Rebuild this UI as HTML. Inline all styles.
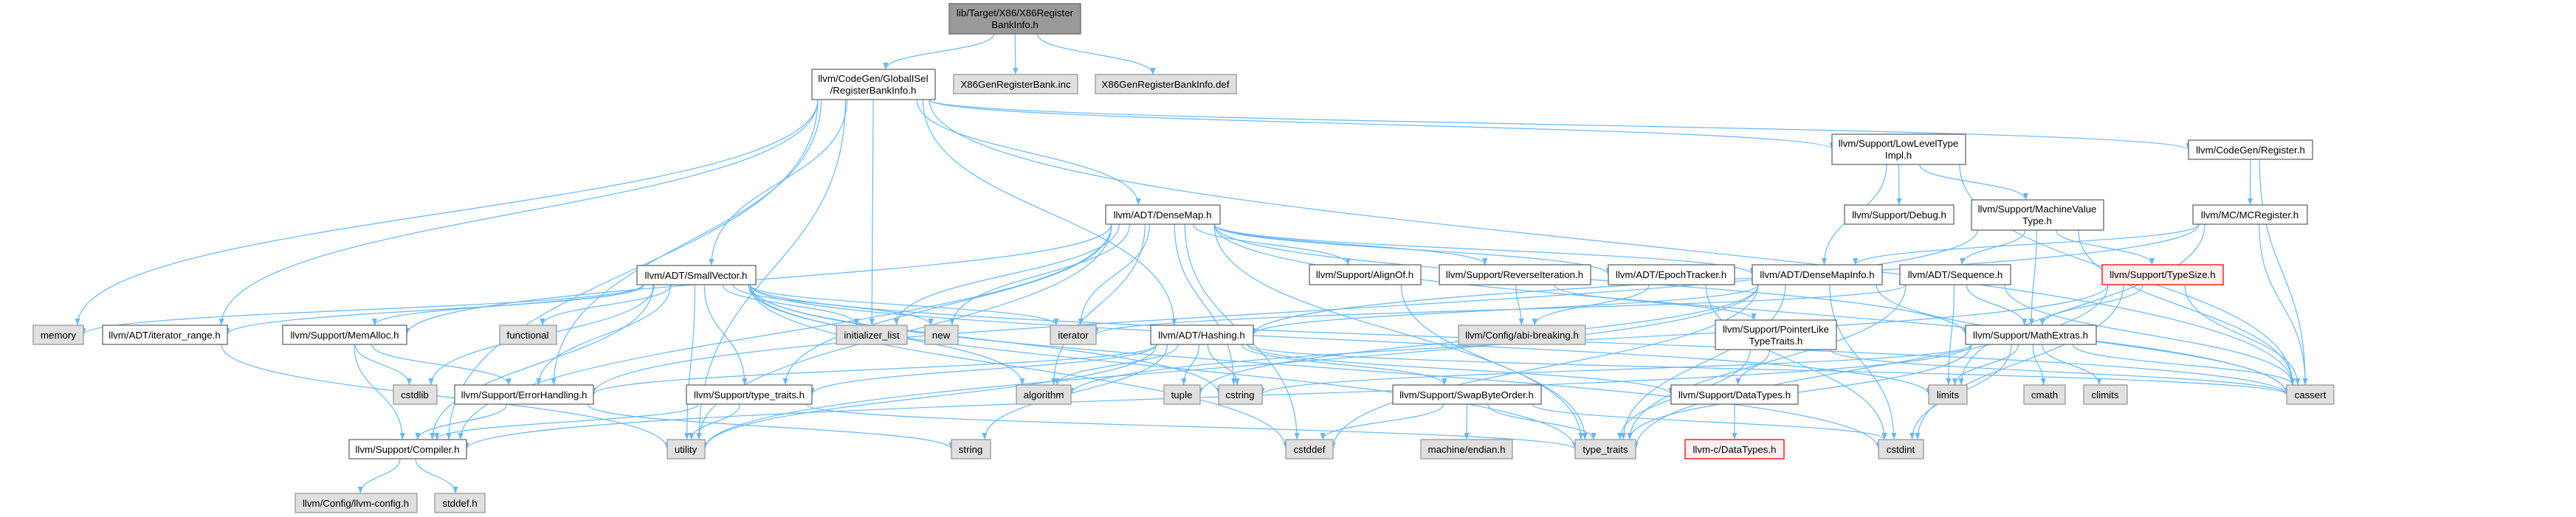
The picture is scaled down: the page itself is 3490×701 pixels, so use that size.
<!DOCTYPE html>
<html><head><meta charset="utf-8"><style>
html,body{margin:0;padding:0;background:#fff;}
svg{display:block;}
text{font-family:"Liberation Sans",Helvetica,sans-serif;font-size:13.3px;fill:#000;text-anchor:middle;}
.n rect{fill:#fff;stroke:#666;stroke-width:1.3;}
.g rect{fill:#e0e0e0;stroke:#999;stroke-width:1.3;}
.r rect{fill:#fff0f0;stroke:#ff0000;stroke-width:1.3;}
.root rect{fill:#999;stroke:#666;stroke-width:1.3;}
path.e{fill:none;stroke:#63b8ff;stroke-width:1.2;}
</style></head><body>
<svg id="s" width="3490" height="701" viewBox="0 0 3490 701" xmlns="http://www.w3.org/2000/svg">
<defs><marker id="a" viewBox="0 0 10 10" refX="10" refY="5" markerWidth="9" markerHeight="9" markerUnits="userSpaceOnUse" orient="auto"><path d="M0,1 L10,5 L0,9 z" fill="#63b8ff"/></marker></defs>
<g id="edges"></g>
<g class="root"><rect x="1286" y="5" width="178" height="41"/><text x="1375" y="22">lib/Target/X86/X86Register</text><text x="1375" y="38">BankInfo.h</text></g>
<g class="n"><rect x="1100" y="94" width="167" height="41"/><text x="1183" y="111">llvm/CodeGen/GlobalISel</text><text x="1183" y="127">/RegisterBankInfo.h</text></g>
<g class="g"><rect x="1292" y="101" width="168" height="26"/><text x="1376" y="119">X86GenRegisterBank.inc</text></g>
<g class="g"><rect x="1484" y="101" width="191" height="26"/><text x="1579" y="119">X86GenRegisterBankInfo.def</text></g>
<g class="n"><rect x="1498" y="278" width="155" height="26"/><text x="1575" y="296">llvm/ADT/DenseMap.h</text></g>
<g class="n"><rect x="2482" y="182" width="181" height="41"/><text x="2572" y="199">llvm/Support/LowLevelType</text><text x="2572" y="215">Impl.h</text></g>
<g class="n"><rect x="2965" y="190" width="168" height="26"/><text x="3049" y="208">llvm/CodeGen/Register.h</text></g>
<g class="n"><rect x="2499" y="278" width="148" height="26"/><text x="2573" y="296">llvm/Support/Debug.h</text></g>
<g class="n"><rect x="2671" y="271" width="179" height="41"/><text x="2760" y="288">llvm/Support/MachineValue</text><text x="2760" y="304">Type.h</text></g>
<g class="n"><rect x="2971" y="278" width="155" height="26"/><text x="3048" y="296">llvm/MC/MCRegister.h</text></g>
<g class="n"><rect x="863" y="360" width="161" height="26"/><text x="943" y="378">llvm/ADT/SmallVector.h</text></g>
<g class="n"><rect x="1774" y="359" width="151" height="27"/><text x="1849" y="377">llvm/Support/AlignOf.h</text></g>
<g class="n"><rect x="1950" y="359" width="205" height="27"/><text x="2052" y="377">llvm/Support/ReverseIteration.h</text></g>
<g class="n"><rect x="2179" y="359" width="171" height="27"/><text x="2264" y="377">llvm/ADT/EpochTracker.h</text></g>
<g class="n"><rect x="2374" y="359" width="176" height="27"/><text x="2462" y="377">llvm/ADT/DenseMapInfo.h</text></g>
<g class="n"><rect x="2574" y="359" width="150" height="27"/><text x="2649" y="377">llvm/ADT/Sequence.h</text></g>
<g class="r"><rect x="2848" y="359" width="164" height="27"/><text x="2930" y="377">llvm/Support/TypeSize.h</text></g>
<g class="g"><rect x="45" y="441" width="68" height="26"/><text x="79" y="459">memory</text></g>
<g class="n"><rect x="139" y="441" width="169" height="26"/><text x="223" y="459">llvm/ADT/iterator_range.h</text></g>
<g class="n"><rect x="383" y="441" width="168" height="26"/><text x="467" y="459">llvm/Support/MemAlloc.h</text></g>
<g class="g"><rect x="677" y="441" width="77" height="26"/><text x="715" y="459">functional</text></g>
<g class="g"><rect x="1133" y="441" width="96" height="26"/><text x="1181" y="459">initializer_list</text></g>
<g class="g"><rect x="1253" y="441" width="45" height="26"/><text x="1275" y="459">new</text></g>
<g class="g"><rect x="1423" y="441" width="62" height="26"/><text x="1454" y="459">iterator</text></g>
<g class="n"><rect x="1559" y="441" width="139" height="26"/><text x="1628" y="459">llvm/ADT/Hashing.h</text></g>
<g class="g"><rect x="1976" y="441" width="172" height="26"/><text x="2062" y="459">llvm/Config/abi-breaking.h</text></g>
<g class="n"><rect x="2324" y="434" width="164" height="40"/><text x="2406" y="451">llvm/Support/PointerLike</text><text x="2406" y="467">TypeTraits.h</text></g>
<g class="n"><rect x="2663" y="441" width="177" height="26"/><text x="2751" y="459">llvm/Support/MathExtras.h</text></g>
<g class="g"><rect x="533" y="522" width="59" height="26"/><text x="562" y="540">cstdlib</text></g>
<g class="n"><rect x="616" y="522" width="188" height="26"/><text x="710" y="540">llvm/Support/ErrorHandling.h</text></g>
<g class="n"><rect x="930" y="522" width="170" height="26"/><text x="1015" y="540">llvm/Support/type_traits.h</text></g>
<g class="g"><rect x="1377" y="522" width="74" height="26"/><text x="1414" y="540">algorithm</text></g>
<g class="g"><rect x="1577" y="522" width="49" height="26"/><text x="1601" y="540">tuple</text></g>
<g class="g"><rect x="1651" y="522" width="59" height="26"/><text x="1680" y="540">cstring</text></g>
<g class="n"><rect x="1887" y="522" width="201" height="26"/><text x="1987" y="540">llvm/Support/SwapByteOrder.h</text></g>
<g class="n"><rect x="2264" y="522" width="172" height="26"/><text x="2350" y="540">llvm/Support/DataTypes.h</text></g>
<g class="g"><rect x="2613" y="522" width="52" height="26"/><text x="2639" y="540">limits</text></g>
<g class="g"><rect x="2742" y="522" width="56" height="26"/><text x="2770" y="540">cmath</text></g>
<g class="g"><rect x="2823" y="522" width="59" height="26"/><text x="2852" y="540">climits</text></g>
<g class="g"><rect x="3098" y="522" width="64" height="26"/><text x="3130" y="540">cassert</text></g>
<g class="n"><rect x="473" y="596" width="159" height="26"/><text x="552" y="614">llvm/Support/Compiler.h</text></g>
<g class="g"><rect x="904" y="596" width="51" height="26"/><text x="929" y="614">utility</text></g>
<g class="g"><rect x="1289" y="596" width="53" height="26"/><text x="1315" y="614">string</text></g>
<g class="g"><rect x="1742" y="596" width="64" height="26"/><text x="1774" y="614">cstddef</text></g>
<g class="g"><rect x="1925" y="596" width="124" height="26"/><text x="1987" y="614">machine/endian.h</text></g>
<g class="g"><rect x="2134" y="596" width="82" height="26"/><text x="2175" y="614">type_traits</text></g>
<g class="r"><rect x="2283" y="596" width="134" height="26"/><text x="2350" y="614">llvm-c/DataTypes.h</text></g>
<g class="g"><rect x="2545" y="596" width="61" height="26"/><text x="2575" y="614">cstdint</text></g>
<g class="g"><rect x="400" y="669" width="165" height="26"/><text x="482" y="687">llvm/Config/llvm-config.h</text></g>
<g class="g"><rect x="589" y="669" width="68" height="26"/><text x="623" y="687">stddef.h</text></g>
</svg>
<script>
var N={
root:[1286,5,178,41],rbi:[1100,94,167,41],inc:[1292,101,168,26],def:[1484,101,191,26],
dm:[1498,278,155,26],llt:[2482,182,181,41],reg:[2965,190,168,26],dbg:[2499,278,148,26],
mvt:[2671,271,179,41],mcr:[2971,278,155,26],sv:[863,360,161,26],al:[1774,359,151,27],
ri:[1950,359,205,27],et:[2179,359,171,27],dmi:[2374,359,176,27],seq:[2574,359,150,27],
ts:[2848,359,164,27],mem:[45,441,68,26],ir:[139,441,169,26],ma:[383,441,168,26],
fn:[677,441,77,26],il:[1133,441,96,26],nw:[1253,441,45,26],it:[1423,441,62,26],
hs:[1559,441,139,26],abi:[1976,441,172,26],plt:[2324,434,164,40],mx:[2663,441,177,26],
cstdlib:[533,522,59,26],eh:[616,522,188,26],tt:[930,522,170,26],alg:[1377,522,74,26],
tup:[1577,522,49,26],cstr:[1651,522,59,26],sbo:[1887,522,201,26],dt:[2264,522,172,26],
lim:[2613,522,52,26],cmath:[2742,522,56,26],clim:[2823,522,59,26],cas:[3098,522,64,26],
cmp:[473,596,159,26],ut:[904,596,51,26],str:[1289,596,53,26],cdef:[1742,596,64,26],
end:[1925,596,124,26],stt:[2134,596,82,26],cdt:[2283,596,134,26],cint:[2545,596,61,26],
cfg:[400,669,165,26],sdh:[589,669,68,26]};
var E={
root:['rbi','inc','def'],
rbi:['dm','sv','ir','llt','reg','eh','hs','cas','il','mem','cmp','ut'],
dm:['dmi','et','al','cmp','mx','ma','ri','tt','alg','cas','cdef','cstr','il','it','nw','stt','ut'],
sv:['cmp','tt','alg','cas','cdef','cstdlib','cstr','fn','il','it','lim','mem','nw','stt','ut','eh','ma','ir','cint'],
ir:['ut'],ma:['cmp','eh','cstdlib'],eh:['cmp','str'],tt:['cmp','stt','ut'],cmp:['cfg','sdh'],
hs:['eh','dt','sbo','tt','alg','cas','cstr','str','tup','ut'],
sbo:['cdef','cint','stt','end'],dt:['cdt'],al:['stt'],ri:['abi','plt'],et:['abi','cint'],
dmi:['hs','cas','cdef','cint','tup','stt','ut'],plt:['dt','cas','stt'],
llt:['mvt','dbg','cas','dmi'],mvt:['seq','ts','mx','cas','eh'],seq:['mx','cas','it','lim','stt'],
ts:['mx','cas','alg','cint','stt'],mx:['cmp','cas','clim','cmath','cint','cstr','lim','stt'],
reg:['mcr','cas'],mcr:['dmi','cas','lim','hs']};
var g=document.getElementById('edges'),out='';
for(var s in E){var a=N[s];E[s].forEach(function(t){var b=N[t];
var cx=a[0]+a[2]/2,tx=b[0]+b[2]/2,sy=a[1]+a[3],ty=b[1];
var sx=cx+(tx-cx)*0.15;sx=Math.max(a[0]+8,Math.min(a[0]+a[2]-8,sx));
var ex=Math.max(b[0]+8,Math.min(b[0]+b[2]-8,sx+(tx-sx)*0.9));
if(Math.abs(tx-cx)>600&&ty-sy<250){ex=tx<cx?b[0]+b[2]:b[0];ty=b[1]+b[3]/2;}
var d=ty-sy;
out+='<path class="e" marker-end="url(#a)" d="M'+sx.toFixed(1)+','+sy+' C'+sx.toFixed(1)+','+(sy+d*0.5).toFixed(1)+' '+ex.toFixed(1)+','+(ty-d*0.5).toFixed(1)+' '+ex.toFixed(1)+','+ty+'"/>';});}
g.innerHTML=out;
</script>
</body></html>
